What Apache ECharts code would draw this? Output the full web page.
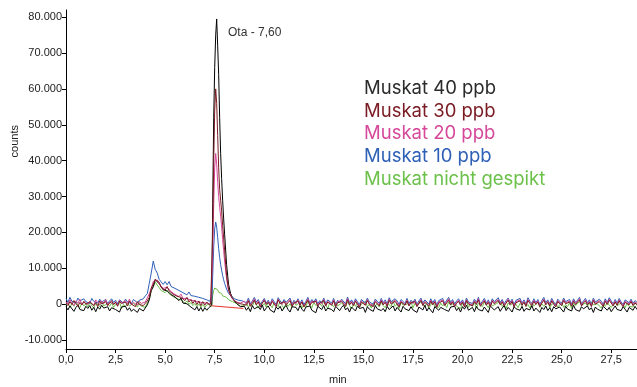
<!DOCTYPE html>
<html><head><meta charset="utf-8">
<script src="https://cdn.jsdelivr.net/npm/echarts@6/dist/echarts.min.js"></script>
<style>html,body{margin:0;padding:0;background:#fff}#c{width:637px;height:387px}</style>
</head><body><div id="c"></div>
<script>
var times = [
0,0.1,0.2,0.3,0.4,0.5,0.6,0.7,0.8,0.9,1,1.1,1.2,1.3,1.4,1.5,1.6,1.7,1.8,1.9,
2,2.1,2.2,2.3,2.4,2.5,2.6,2.7,2.8,2.9,3,3.1,3.2,3.3,3.4,3.5,3.6,3.7,3.8,3.9,
4,4.1,4.2,4.3,4.4,4.5,4.6,4.7,4.8,4.9,5,5.1,5.2,5.3,5.4,5.5,5.6,5.7,5.8,5.9,6,6.1,6.2,6.3,6.4,6.5,6.6,6.7,6.8,6.9,7,7.1,
7.2,7.25,7.3,7.35,7.4,7.45,7.5,7.55,7.6,7.65,7.7,7.75,7.8,7.85,7.9,7.95,
8,8.1,8.2,8.3,8.4,8.5,8.6,8.7,8.8,8.9,
9,9.1,9.2,9.3,9.4,9.5,9.6,9.7,9.8,9.9,
10,10.1,10.2,10.3,10.4,10.5,10.6,10.7,10.8,10.9,
11,11.1,11.2,11.3,11.4,11.5,11.6,11.7,11.8,11.9,
12,12.1,12.2,12.3,12.4,12.5,12.6,12.7,12.8,12.9,
13,13.1,13.2,13.3,13.4,13.5,13.6,13.7,13.8,13.9,
14,14.1,14.2,14.3,14.4,14.5,14.6,14.7,14.8,14.9,
15,15.1,15.2,15.3,15.4,15.5,15.6,15.7,15.8,15.9,
16,16.1,16.2,16.3,16.4,16.5,16.6,16.7,16.8,16.9,
17,17.1,17.2,17.3,17.4,17.5,17.6,17.7,17.8,17.9,
18,18.1,18.2,18.3,18.4,18.5,18.6,18.7,18.8,18.9,
19,19.1,19.2,19.3,19.4,19.5,19.6,19.7,19.8,19.9,
20,20.1,20.2,20.3,20.4,20.5,20.6,20.7,20.8,20.9,
21,21.1,21.2,21.3,21.4,21.5,21.6,21.7,21.8,21.9,
22,22.1,22.2,22.3,22.4,22.5,22.6,22.7,22.8,22.9,
23,23.1,23.2,23.3,23.4,23.5,23.6,23.7,23.8,23.9,
24,24.1,24.2,24.3,24.4,24.5,24.6,24.7,24.8,24.9,
25,25.1,25.2,25.3,25.4,25.5,25.6,25.7,25.8,25.9,
26,26.1,26.2,26.3,26.4,26.5,26.6,26.7,26.8,26.9,
27,27.1,27.2,27.3,27.4,27.5,27.6,27.7,27.8,27.9,
28,28.1,28.2,28.3,28.4,28.5,28.6,28.7,28.8];

var muskat40 = [
-700,-1600,-500,-1300,-2000,-900,-300,-1500,-1000,-1800,
-600,-1200,-400,-1700,-900,-2100,-800,-1400,-300,-1100,
-1600,-700,-1900,-1000,-500,-1500,-1200,-2200,-800,-1300,
-600,-1700,-1000,-2000,-1400,-900,-2300,-1200,-1600,-1900,
-1400,-200,1200,3800,4900,6800,7300,5700,5500,4000,4100,3700,3800,2700,2900,2000,2100,1000,1700,300,600,100,0,-800,-500,-1600,-700,-1900,-900,-2000,-1000,-1700,
-1000,-600,-1300,-300,28000,52000,66000,75000,79500,72000,64000,52000,42000,35000,29000,24000,
19500,11000,5500,3000,1800,800,200,-300,-700,-1000,
-600,-1700,-900,-2100,-400,-1300,-1800,-700,-1500,-200,
-1900,-1100,-500,-1600,-1200,-2300,-800,-1400,-600,-1900,
-1000,-300,-1500,-2200,-700,-1200,-900,-1800,-400,-1400,
-2000,-800,-1200,-500,-1700,-1300,-2400,-600,-1000,-1500,
-400,-1900,-1100,-700,-1500,-2100,-600,-1000,-1800,-900,
-300,-1600,-1000,-2200,-800,-1300,-1900,-500,-1200,-1700,
-900,-2300,-700,-1400,-1100,-2000,-400,-1300,-800,-1800,
-1200,-2100,-600,-1500,-1000,-500,-1900,-900,-1400,-2200,
-600,-1300,-1100,-1800,-700,-1600,-1200,-2300,-800,-1000,
-1600,-300,-1900,-1000,-1400,-2400,-700,-1200,-1700,-900,
-500,-1500,-1100,-2000,-800,-1300,-600,-1800,-1000,-2200,
-700,-1400,-300,-1700,-1200,-900,-2100,-600,-1500,-1100,
-1900,-800,-1300,-2300,-500,-1000,-1600,-1200,-700,-2000,
-1100,-400,-1800,-900,-1500,-2200,-700,-1300,-1000,-1700,
-600,-2000,-1200,-800,-1600,-400,-1900,-1100,-1400,-2300,
-900,-1500,-500,-1800,-1000,-2100,-700,-1300,-1600,-800,
-1200,-2200,-600,-1400,-900,-1900,-300,-1500,-1100,-2000,
-700,-1300,-1800,-500,-1600,-1000,-2300,-800,-1400,-1200,
-1900,-600,-1100,-1700,-900,-2100,-1300,-500,-1500,-1000,
-1800,-700,-1400,-2200,-900,-1200,-1700,-600,-1500];

var muskat30 = [
300,-400,700,-100,1000,200,-600,500,-200,800,
0,-500,600,1100,-300,400,-700,900,100,-200,
700,-400,300,1000,-100,500,-600,800,200,-300,
600,-500,900,0,400,-700,700,-100,300,-400,
-400,900,1900,4500,5500,6900,6700,6100,4700,4800,3900,4900,3700,3800,2800,3100,2200,2300,1900,1800,1000,1900,600,1300,200,1100,-100,900,-400,700,-300,600,
200,-300,400,200,20000,40000,54000,60000,56000,47000,38000,32000,29000,26000,22000,18500,
15000,8000,4000,2400,1500,900,600,200,500,0,
400,-300,900,-600,200,1100,-200,600,-800,300,
1000,-100,500,-500,800,0,-700,1200,100,-400,
700,-200,400,1000,-600,300,-100,900,-300,600,
-800,200,1100,-400,500,0,800,-600,300,-200,
1000,-500,600,100,-300,900,-700,400,-100,700,
200,-600,1200,-200,500,-400,800,0,-900,600,
300,-300,1000,-100,400,-700,700,200,-500,900,
-200,500,-600,1100,0,-400,800,300,-800,600,
100,-300,900,-500,400,-100,700,-700,200,1000,
-400,500,0,-600,800,-200,600,-900,300,-100,
900,-400,300,1100,-200,600,-700,200,800,-300,
500,-800,1000,0,400,-500,700,-100,1200,-600,
200,900,-300,500,-700,800,100,-400,1000,-200,
600,-500,300,1100,-100,700,-800,400,0,900,
-300,500,-600,1000,200,-400,800,-100,600,-700,
300,1100,-200,500,-500,900,0,-800,700,200,
-400,1000,100,-300,600,-600,800,-100,400,1200,
-500,300,900,-200,500,-700,1000,0,-400,700,
200,-600,800,-100,1100,300,-500,600,-300,900,
0,-700,500,1000,-200,700,-400,300,-100];

var muskat20 = [
700,0,1300,300,-400,900,200,1400,-200,600,
1100,-100,800,300,-500,1200,400,-200,900,100,
1300,-300,600,1000,0,700,-400,1100,300,-100,
900,200,1400,-200,500,1000,-300,800,200,600,
600,1000,2900,4300,6300,6600,6700,5700,5600,4400,4700,4700,4900,3500,3700,2700,3000,2100,2800,1600,2000,1600,1600,1100,1200,900,900,600,700,400,500,300,
500,0,700,300,14000,28000,38000,42000,39000,34000,30000,27000,24500,21500,18000,15000,
12000,7000,3800,2600,1500,1100,600,900,300,700,
800,0,1200,-300,600,1500,200,900,-500,400,
1300,100,700,-200,1100,300,-600,1400,500,-100,
900,200,600,1300,-400,700,100,1200,-200,800,
-500,400,1500,-100,900,300,1100,-300,600,0,
1300,-200,800,400,-100,1200,-600,700,200,1000,
500,-300,1600,0,800,-200,1100,300,-500,900,
600,-100,1300,200,700,-400,1000,400,-200,1200,
0,800,-300,1400,300,-100,1100,500,-500,900,
400,-200,1200,-300,700,100,1000,-400,500,1300,
-100,800,300,-300,1100,0,900,-600,600,200,
1200,-200,700,1500,100,900,-400,500,1100,0,
800,-500,1300,300,700,-200,1000,200,1500,-300,
500,1200,0,800,-400,1100,400,-100,1300,100,
900,-200,600,1400,200,1000,-500,700,300,1200,
0,800,-300,1300,500,-100,1100,200,900,-400,
600,1400,100,800,-200,1200,300,-500,1000,500,
-100,1300,400,0,900,-300,1100,200,700,1500,
-200,600,1200,100,800,-400,1300,300,-100,1000,
500,-300,1100,200,1400,600,-200,900,0,1200,
300,-400,800,1300,100,1000,-100,600,200];

var muskat10 = [
1600,500,1900,800,1300,300,1700,900,400,1500,
700,1200,200,1600,800,1100,300,1400,600,1000,
1300,200,900,1500,500,1100,0,1200,700,300,
1400,600,1000,200,1300,800,400,1100,600,1500,
2300,2900,5800,8700,12000,9700,8700,6900,6600,5500,6300,5400,6300,4900,5200,4400,4600,3800,3900,3200,3600,2600,3400,2400,2700,2200,2300,1900,1900,1600,1500,1200,
1300,800,1600,1000,8000,16000,21000,22900,21500,18500,15500,13000,11000,9500,8000,6800,
5800,4200,3000,2400,2000,1500,1800,1100,1500,900,
1200,400,1700,100,900,1900,600,1300,-100,800,
1600,300,1100,0,1500,700,-200,1800,900,300,
1300,500,1000,1700,0,1100,400,1500,200,1200,
-100,800,1900,300,1300,600,1500,100,1000,400,
1700,200,1200,800,300,1600,-200,1100,500,1400,
900,100,2000,400,1200,200,1500,700,-100,1300,
1000,300,1700,600,1100,0,1400,800,200,1600,
400,1200,100,1800,700,300,1500,900,-100,1300,
800,200,1600,100,1100,500,1400,0,900,1700,
300,1200,700,100,1500,400,1300,-200,1000,600,
1600,200,1100,1900,500,1300,0,900,1500,300,
1200,-100,1700,600,1000,200,1400,500,1900,0,
800,1600,300,1200,-100,1500,700,200,1800,400,
1300,100,1000,1700,500,1400,-200,1100,600,1600,
300,1200,0,1800,800,200,1500,400,1300,-100,
1000,1900,400,1200,100,1600,600,-200,1400,800,
200,1700,700,300,1300,0,1500,500,1100,1900,
100,900,1600,400,1200,-100,1700,600,200,1400,
800,0,1500,500,1800,900,100,1300,300,1600,
600,-100,1200,1700,400,1400,200,1000,500];

var muskat0 = [
-200,500,-900,200,-600,700,-300,-1000,400,-500,
100,-800,600,-400,-1100,300,-200,-700,800,-500,
-1000,200,-600,400,-900,0,-400,600,-1200,-100,
-700,300,-500,-1000,200,-300,-800,400,-600,-200,
-900,400,1300,3900,4700,6200,5300,4600,3800,3900,3200,3800,2900,2900,2100,2200,1500,1400,1200,1000,300,900,-100,500,-400,200,-700,100,-800,-100,-900,-200,
-500,0,-800,-200,2500,3800,4500,4800,4300,4000,3300,3500,2800,3000,2300,2500,
1800,1900,1200,1400,700,900,200,-300,-600,-200,
-400,300,-900,100,-600,800,-200,-1100,400,-500,
200,-800,600,-300,-1000,500,-100,-700,900,-400,
-1200,300,-600,100,-900,700,-300,-500,400,-1100,
0,-700,800,-200,-1000,500,-400,-800,200,-600,
900,-300,-1200,400,-100,-700,600,-500,-1000,300,
-200,-800,700,-400,-1300,100,-600,500,-900,0,
-300,800,-700,-100,-1100,400,-500,200,-800,600,
-400,-1000,300,-200,-700,900,-600,100,-1200,500,
-300,-800,0,-500,700,-1000,200,-400,-900,600,
-100,-700,400,-1100,-200,800,-600,-300,-900,300,
-500,200,-1000,600,-300,-800,400,-600,-100,-1200,
300,-400,700,-900,0,-600,500,-1100,200,-300,
-700,600,-200,-1000,400,-500,-900,100,-400,800,
-600,0,-1200,300,-300,-800,500,-100,-1000,200,
-400,700,-700,-100,-1100,400,-500,-200,600,-900,
100,-600,-300,800,-1000,0,-500,300,-800,-200,
500,-900,-100,-700,400,-1200,200,-400,-600,700,
-300,-800,300,-500,-1000,600,-200,-700,100,-400,
-1100,200,-600,500,-300,-900,0,700,-500,-800,
400,-200,-1000,300,-600,-100,-800,500,-400];

var baselineTimes = [7.32, 8.95];
var baselineValues = [-450, -1200];

var xTicks = [0,2.5,5,7.5,10,12.5,15,17.5,20,22.5,25,27.5];
var yTicks = [-10000,0,10000,20000,30000,40000,50000,60000,70000,80000];

var legendNames = ['Muskat 40 ppb','Muskat 30 ppb','Muskat 20 ppb','Muskat 10 ppb','Muskat nicht gespikt'];
var legendColors = ['#2b2b2b','#7a1a22','#d6489a','#2e60b6','#6cc14a'];

function pairs(xs, ys){ return xs.map(function(x,i){ return [x, ys[i]]; }); }
function line(name, vals, color){
  return {name:name, type:'line', data:pairs(times, vals), showSymbol:false, symbol:'none',
    lineStyle:{color:color, width:1}, itemStyle:{color:color}, silent:true};
}

var chart = echarts.init(document.getElementById('c'), null, {renderer:'canvas'});
var axisFont = {fontFamily:'Liberation Sans, Arial, sans-serif', fontSize:11, color:'#222'};
chart.setOption({
  animation:false,
  backgroundColor:'#fff',
  grid:{left:66, right:0, top:10, bottom:38, containLabel:false},
  xAxis:{type:'value', min:0, max:28.8,
    axisLine:{show:true, onZero:false, lineStyle:{color:'#000', width:1}},
    axisTick:{show:true, length:4, lineStyle:{color:'#000'}, customValues:xTicks},
    axisLabel:Object.assign({customValues:xTicks, margin:5, formatter:function(v){return v.toFixed(1).replace('.',',');}}, axisFont),
    splitLine:{show:false}},
  yAxis:{type:'value', min:-12500, max:82000,
    axisLine:{show:true, onZero:false, lineStyle:{color:'#000', width:1}},
    axisTick:{show:true, length:4, lineStyle:{color:'#000'}, customValues:yTicks},
    axisLabel:Object.assign({customValues:yTicks, margin:4, formatter:function(v){ return v===0 ? '0' : (v/1000)+'.000'; }}, axisFont),
    splitLine:{show:false}},
  series:[
    line('Muskat nicht gespikt', muskat0, '#6cc14a'),
    line('Muskat 40 ppb', muskat40, '#000000'),
    line('Muskat 10 ppb', muskat10, '#2e60b6'),
    line('Muskat 20 ppb', muskat20, '#d6489a'),
    line('Muskat 30 ppb', muskat30, '#7a1a22'),
    {name:'Basislinie', type:'line', data:pairs(baselineTimes, baselineValues), showSymbol:false,
     lineStyle:{color:'#e8302a', width:1}, silent:true}
  ],
  graphic:[
    {type:'text', left:9, top:125, rotation:Math.PI/2, style:{text:'counts', font:'11px "Liberation Sans", Arial, sans-serif', fill:'#222'}},
    {type:'text', left:329, top:374, style:{text:'min', font:'11px "Liberation Sans", Arial, sans-serif', fill:'#222'}},
    {type:'text', left:228, top:27, style:{text:'Ota - 7,60', font:'12px "Liberation Sans", Arial, sans-serif', fill:'#333'}}
  ].concat(legendNames.map(function(n,i){
    return {type:'text', left:364, top:[79,102,124,147,170][i], style:{text:n, font:'18.5px Inter, Roboto, sans-serif', fill:legendColors[i]}};
  }))
});
</script></body></html>
